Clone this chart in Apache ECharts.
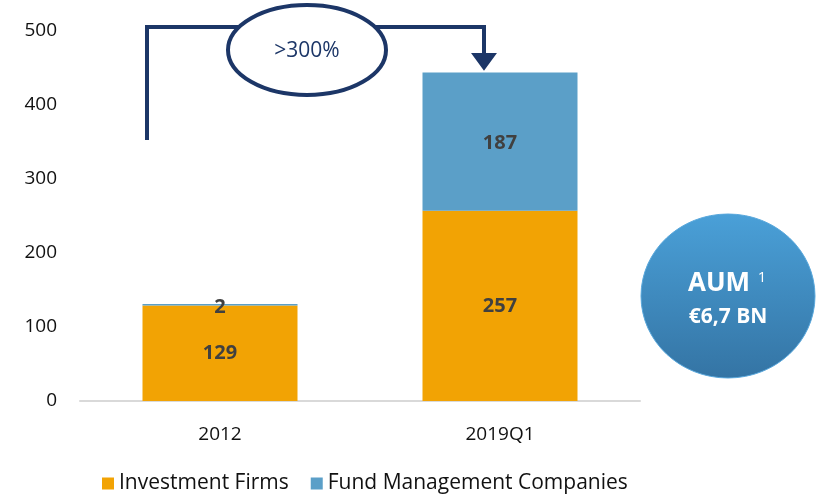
<!DOCTYPE html>
<html>
<head>
<meta charset="utf-8">
<script src="https://cdn.jsdelivr.net/npm/echarts@6/dist/echarts.min.js"></script>
<style>
  html, body { margin: 0; padding: 0; background: #fff; }
  #chart { width: 817px; height: 499px; }
</style>
</head>
<body>
<div id="chart"></div>
<script>
const categories = ['2012', '2019Q1']
const investmentFirms = [129, 257]
const fundManagement = [2, 187]
const yTicks = [0, 100, 200, 300, 400, 500]

const navy = '#1c3667'
const font = 'Open Sans'

const chart = echarts.init(document.getElementById('chart'))

chart.setOption({
  animation: false,
  textStyle: { fontFamily: font },
  grid: { left: 80, right: 177, top: 31, bottom: 98 },
  legend: {
    bottom: 0,
    left: 97,
    itemWidth: 12,
    itemHeight: 12,
    itemGap: 22,
    icon: 'rect',
    textStyle: { fontSize: 21, color: '#111', fontFamily: font },
    data: ['Investment Firms', 'Fund Management Companies']
  },
  xAxis: {
    type: 'category',
    data: categories,
    axisLine: { lineStyle: { color: '#d9d9d9', width: 2 } },
    axisTick: { show: false },
    axisLabel: { fontSize: 19, color: '#111', margin: 24 }
  },
  yAxis: {
    type: 'value',
    min: yTicks[0],
    max: yTicks[yTicks.length - 1],
    interval: 100,
    splitLine: { show: false },
    axisLine: { show: false },
    axisLabel: { fontSize: 19, color: '#111', margin: 23 }
  },
  series: [
    {
      name: 'Investment Firms',
      type: 'bar',
      stack: 'total',
      barWidth: 155,
      data: investmentFirms,
      itemStyle: { color: '#f2a304' },
      label: {
        show: true,
        position: 'inside',
        fontSize: 20,
        fontWeight: 'bold',
        color: '#404040'
      }
    },
    {
      name: 'Fund Management Companies',
      type: 'bar',
      stack: 'total',
      data: fundManagement,
      itemStyle: { color: '#5b9fc8' },
      label: {
        show: true,
        position: 'inside',
        fontSize: 20,
        fontWeight: 'bold',
        color: '#404040',
        offset: [0, 2]
      }
    }
  ],
  graphic: [
    // growth arrow
    {
      type: 'polyline',
      shape: { points: [[147, 140], [147, 27], [484, 27], [484, 56]] },
      style: { stroke: navy, lineWidth: 4, fill: null }
    },
    {
      type: 'polygon',
      shape: { points: [[473, 54], [495, 54], [484, 69]] },
      style: { fill: navy, stroke: navy, lineWidth: 2 }
    },
    {
      type: 'ellipse',
      shape: { cx: 307, cy: 50, rx: 79, ry: 45 },
      style: { fill: '#fff', stroke: navy, lineWidth: 4 }
    },
    {
      type: 'text',
      x: 307,
      y: 51,
      style: {
        text: '>300%',
        fontSize: 21,
        fontFamily: font,
        fill: navy,
        align: 'center',
        verticalAlign: 'middle'
      }
    },
    // AUM bubble
    {
      type: 'ellipse',
      shape: { cx: 728, cy: 296, rx: 87, ry: 82 },
      style: {
        fill: new echarts.graphic.LinearGradient(0, 0, 0, 1, [
          { offset: 0, color: '#4aa0d8' },
          { offset: 1, color: '#3474a4' }
        ]),
        stroke: '#5aa8dc',
        lineWidth: 1
      }
    },
    {
      type: 'text',
      x: 719,
      y: 284,
      style: {
        text: 'AUM',
        fontSize: 26,
        fontWeight: 'bold',
        fontFamily: font,
        fill: '#fff',
        align: 'center',
        verticalAlign: 'middle'
      }
    },
    {
      type: 'text',
      x: 762,
      y: 278,
      style: {
        text: '1',
        fontSize: 15,
        fontFamily: font,
        fill: '#fff',
        align: 'center',
        verticalAlign: 'middle'
      }
    },
    {
      type: 'text',
      x: 728,
      y: 317,
      style: {
        text: '€6,7 BN',
        fontSize: 21,
        fontWeight: 'bold',
        fontFamily: font,
        fill: '#fff',
        align: 'center',
        verticalAlign: 'middle'
      }
    }
  ]
})
</script>
</body>
</html>
